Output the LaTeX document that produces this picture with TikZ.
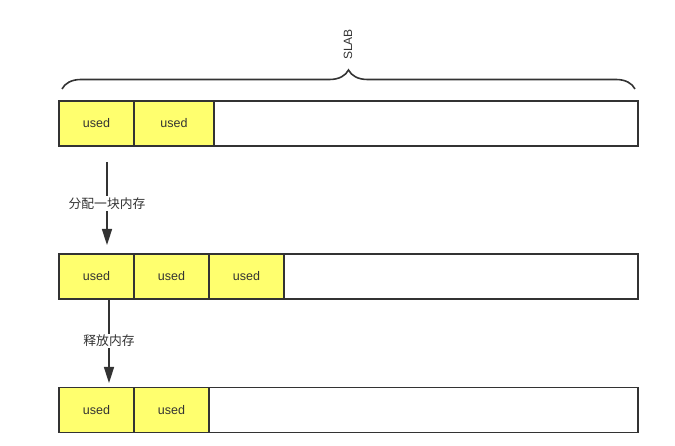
\documentclass[tikz,border=0pt]{standalone}
\usepackage{fontspec}
\setmainfont{Liberation Sans}
\newfontfamily\cjk{Noto Sans CJK SC}
\usetikzlibrary{positioning,arrows.meta,decorations.pathreplacing}
\definecolor{usedyellow}{HTML}{FFFF6E}
\definecolor{edgegray}{HTML}{333333}
\tikzset{
	slab/.style={draw=edgegray, line width=1.6pt, minimum height=45pt, minimum width=579pt, inner sep=0pt, outer sep=0pt},
	used/.style={slab, fill=usedyellow, text=edgegray, minimum width=75pt, anchor=west, font=\fontsize{12.5}{14}\selectfont},
	lbl/.style={fill=white, text=edgegray, inner sep=1.5pt, font=\cjk\fontsize{12.8}{14}\selectfont},
	arr/.style={draw=edgegray, line width=1.6pt, -{Triangle[length=16pt,width=10pt]}},
}
\begin{document}
\begin{tikzpicture}[x=1pt,y=1pt]
		\useasboundingbox (0,0) rectangle (675,446);
		\draw
		node[slab] at (348.5,322.5) (s1) {}
		node[slab] at (348.5,169.5) (s2) {}
		node[slab] at (348.5,36) (s3) {}

		node[used] at (s1.west) (s1a) {used}
		node[used, right=0pt of s1a, minimum width=80pt] (s1b) {used}
		node[used] at (s2.west) (s2a) {used}
		node[used, right=0pt of s2a] (s2b) {used}
		node[used, right=0pt of s2b] (s2c) {used}
		node[used] at (s3.west) (s3a) {used}
		node[used, right=0pt of s3a] (s3b) {used};

		% brace over the slab
		\coordinate (bl) at (62,357);
		\coordinate (br) at (635,357);
		\draw[edgegray, line width=1.6pt, decorate, decoration={brace, amplitude=19pt}] (bl) -- (br);
		\node[rotate=90, anchor=west, inner sep=0pt, text=edgegray, font=\fontsize{12}{14}\selectfont] (slabl) at (348,386) {SLAB};

		% allocate / free
		\coordinate (a1s) at (107,284);
		\coordinate (a1e) at (107,201);
		\coordinate (a2s) at (109,147);
		\coordinate (a2e) at (109,63);
		\draw[arr] (a1s) -- node[lbl] {分配一块内存} (a1e);
		\draw[arr] (a2s) -- node[lbl] {释放内存} (a2e);
\end{tikzpicture}
\end{document}
